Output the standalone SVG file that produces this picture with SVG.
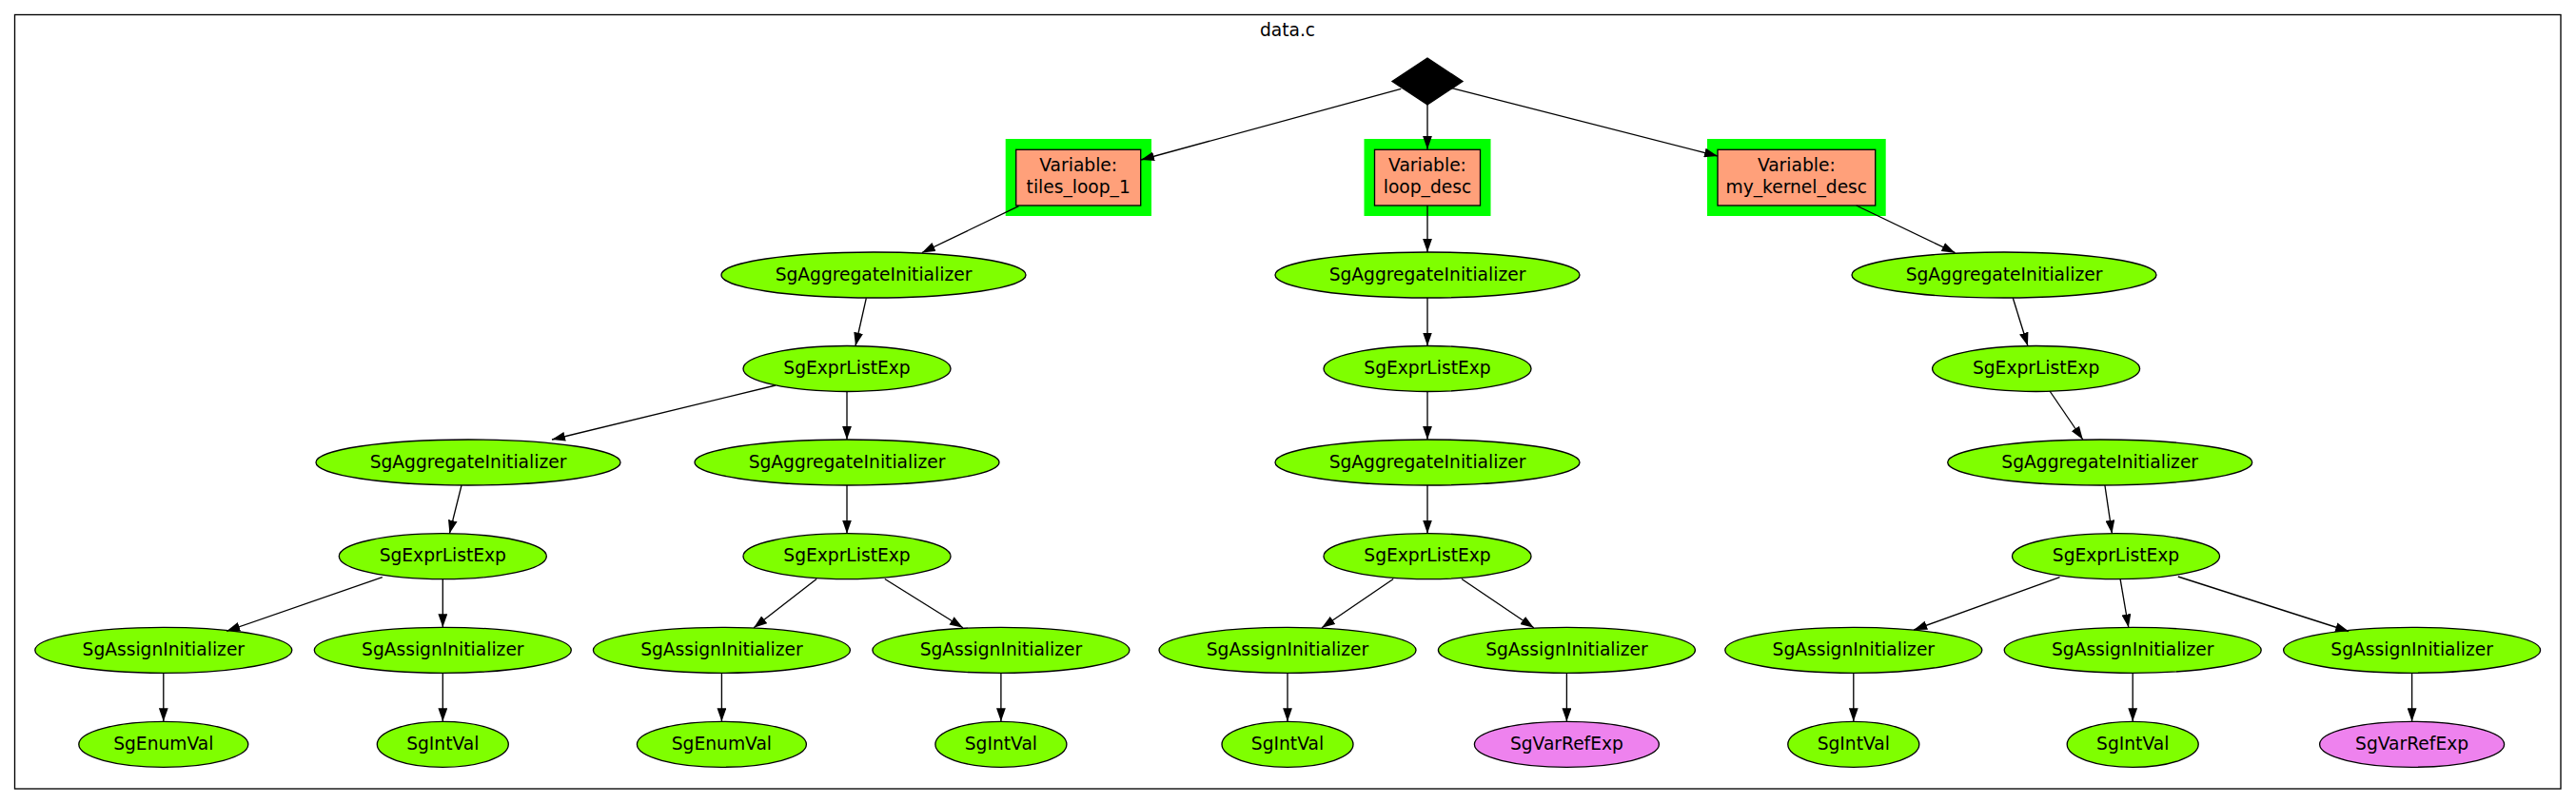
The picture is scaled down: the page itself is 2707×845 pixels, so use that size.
<svg xmlns="http://www.w3.org/2000/svg" width="2707" height="845" viewBox="0 0 2707 845">
<defs>
<marker id="ah" markerUnits="userSpaceOnUse" markerWidth="14" markerHeight="10" viewBox="0 0 13.33 9.33" refX="13.33" refY="4.67" orient="auto">
<path d="M0,0 L13.33,4.67 L0,9.33 z" fill="#000"/>
</marker>
</defs>
<style>
text{font-family:"DejaVu Sans","Liberation Sans",sans-serif;font-size:18.67px;fill:#000;text-anchor:middle}
.g{fill:#7fff00;stroke:#000;stroke-width:1.33}
.v{fill:#ee82ee;stroke:#000;stroke-width:1.33}
.box{fill:#ffa07a;stroke:#000;stroke-width:1.33}
.hl{fill:#00ff00;stroke:none}
.e{stroke:#000;stroke-width:1.33;fill:none;marker-end:url(#ah)}
</style>
<rect x="0" y="0" width="2707" height="845" fill="#fff"/>
<g id="cluster">
<rect x="15.5" y="15.5" width="2675.5" height="813.5" fill="none" stroke="#000" stroke-width="1.33"/>
<text x="1353" y="37.5">data.c</text>
</g>
<g id="root"><polygon points="1500,61 1537,85.5 1500,110 1463,85.5" fill="#000" stroke="#000" stroke-width="1.33"/></g>
<g id="var_tiles_loop_1">
<rect class="hl" x="1056.7" y="146" width="153.3" height="81"/>
<rect class="box" x="1067.7" y="157.3" width="131" height="58.7"/>
<text x="1133.2" y="179.5">Variable:</text>
<text x="1133.2" y="203">tiles_loop_1</text>
</g>
<g id="var_loop_desc">
<rect class="hl" x="1433.5" y="146" width="133" height="81"/>
<rect class="box" x="1444.5" y="157.3" width="111" height="58.7"/>
<text x="1500" y="179.5">Variable:</text>
<text x="1500" y="203">loop_desc</text>
</g>
<g id="var_my_kernel_desc">
<rect class="hl" x="1794" y="146" width="187.7" height="81"/>
<rect class="box" x="1805" y="157.3" width="165.7" height="58.7"/>
<text x="1887.8" y="179.5">Variable:</text>
<text x="1887.8" y="203">my_kernel_desc</text>
</g>
<g id="n_agg1"><ellipse class="g" cx="918" cy="289" rx="160" ry="24"/><text x="918" y="294.5">SgAggregateInitializer</text></g>
<g id="n_agg2"><ellipse class="g" cx="1500" cy="289" rx="160" ry="24"/><text x="1500" y="294.5">SgAggregateInitializer</text></g>
<g id="n_agg3"><ellipse class="g" cx="2106" cy="289" rx="160" ry="24"/><text x="2106" y="294.5">SgAggregateInitializer</text></g>
<g id="n_el1"><ellipse class="g" cx="890" cy="387.5" rx="109" ry="24"/><text x="890" y="393">SgExprListExp</text></g>
<g id="n_el2"><ellipse class="g" cx="1500" cy="387.5" rx="109" ry="24"/><text x="1500" y="393">SgExprListExp</text></g>
<g id="n_el3"><ellipse class="g" cx="2139.6" cy="387.5" rx="109" ry="24"/><text x="2139.6" y="393">SgExprListExp</text></g>
<g id="n_agg4"><ellipse class="g" cx="492" cy="486" rx="160" ry="24"/><text x="492" y="491.5">SgAggregateInitializer</text></g>
<g id="n_agg5"><ellipse class="g" cx="890" cy="486" rx="160" ry="24"/><text x="890" y="491.5">SgAggregateInitializer</text></g>
<g id="n_agg6"><ellipse class="g" cx="1500" cy="486" rx="160" ry="24"/><text x="1500" y="491.5">SgAggregateInitializer</text></g>
<g id="n_agg7"><ellipse class="g" cx="2206.7" cy="486" rx="160" ry="24"/><text x="2206.7" y="491.5">SgAggregateInitializer</text></g>
<g id="n_el4"><ellipse class="g" cx="465.3" cy="584.7" rx="109" ry="24"/><text x="465.3" y="590.2">SgExprListExp</text></g>
<g id="n_el5"><ellipse class="g" cx="890" cy="584.7" rx="109" ry="24"/><text x="890" y="590.2">SgExprListExp</text></g>
<g id="n_el6"><ellipse class="g" cx="1500" cy="584.7" rx="109" ry="24"/><text x="1500" y="590.2">SgExprListExp</text></g>
<g id="n_el7"><ellipse class="g" cx="2223.5" cy="584.7" rx="109" ry="24"/><text x="2223.5" y="590.2">SgExprListExp</text></g>
<g id="n_as1"><ellipse class="g" cx="171.8" cy="683.3" rx="135" ry="24"/><text x="171.8" y="688.8">SgAssignInitializer</text></g>
<g id="n_as2"><ellipse class="g" cx="465.3" cy="683.3" rx="135" ry="24"/><text x="465.3" y="688.8">SgAssignInitializer</text></g>
<g id="n_as3"><ellipse class="g" cx="758.4" cy="683.3" rx="135" ry="24"/><text x="758.4" y="688.8">SgAssignInitializer</text></g>
<g id="n_as4"><ellipse class="g" cx="1051.9" cy="683.3" rx="135" ry="24"/><text x="1051.9" y="688.8">SgAssignInitializer</text></g>
<g id="n_as5"><ellipse class="g" cx="1353" cy="683.3" rx="135" ry="24"/><text x="1353" y="688.8">SgAssignInitializer</text></g>
<g id="n_as6"><ellipse class="g" cx="1646.4" cy="683.3" rx="135" ry="24"/><text x="1646.4" y="688.8">SgAssignInitializer</text></g>
<g id="n_as7"><ellipse class="g" cx="1947.8" cy="683.3" rx="135" ry="24"/><text x="1947.8" y="688.8">SgAssignInitializer</text></g>
<g id="n_as8"><ellipse class="g" cx="2241.2" cy="683.3" rx="135" ry="24"/><text x="2241.2" y="688.8">SgAssignInitializer</text></g>
<g id="n_as9"><ellipse class="g" cx="2534.6" cy="683.3" rx="135" ry="24"/><text x="2534.6" y="688.8">SgAssignInitializer</text></g>
<g id="n_v1"><ellipse class="g" cx="171.8" cy="782.3" rx="89" ry="24"/><text x="171.8" y="787.8">SgEnumVal</text></g>
<g id="n_v2"><ellipse class="g" cx="465.3" cy="782.3" rx="69" ry="24"/><text x="465.3" y="787.8">SgIntVal</text></g>
<g id="n_v3"><ellipse class="g" cx="758.4" cy="782.3" rx="89" ry="24"/><text x="758.4" y="787.8">SgEnumVal</text></g>
<g id="n_v4"><ellipse class="g" cx="1051.9" cy="782.3" rx="69" ry="24"/><text x="1051.9" y="787.8">SgIntVal</text></g>
<g id="n_v5"><ellipse class="g" cx="1353" cy="782.3" rx="69" ry="24"/><text x="1353" y="787.8">SgIntVal</text></g>
<g id="n_v6"><ellipse class="v" cx="1646.4" cy="782.3" rx="97" ry="24"/><text x="1646.4" y="787.8">SgVarRefExp</text></g>
<g id="n_v7"><ellipse class="g" cx="1947.8" cy="782.3" rx="69" ry="24"/><text x="1947.8" y="787.8">SgIntVal</text></g>
<g id="n_v8"><ellipse class="g" cx="2241.2" cy="782.3" rx="69" ry="24"/><text x="2241.2" y="787.8">SgIntVal</text></g>
<g id="n_v9"><ellipse class="v" cx="2534.6" cy="782.3" rx="97" ry="24"/><text x="2534.6" y="787.8">SgVarRefExp</text></g>
<g id="edges">
<line class="e" x1="1472.3" y1="93.3" x2="1199" y2="168"/>
<line class="e" x1="1500" y1="110" x2="1500" y2="157"/>
<line class="e" x1="1525.7" y1="92.7" x2="1805" y2="164"/>
<line class="e" x1="1070.5" y1="216.7" x2="968.9" y2="265.5"/>
<line class="e" x1="1500" y1="216" x2="1500" y2="265"/>
<line class="e" x1="1950.7" y1="216" x2="2054.5" y2="265.7"/>
<line class="e" x1="910.3" y1="313.3" x2="899" y2="363.5"/>
<line class="e" x1="1500" y1="313" x2="1500" y2="363.5"/>
<line class="e" x1="2115.3" y1="313.3" x2="2130.9" y2="363.5"/>
<line class="e" x1="815" y1="405" x2="580" y2="462"/>
<line class="e" x1="890" y1="411.5" x2="890" y2="462"/>
<line class="e" x1="1500" y1="411.5" x2="1500" y2="462"/>
<line class="e" x1="2154" y1="411" x2="2188.8" y2="462"/>
<line class="e" x1="485" y1="510" x2="472.4" y2="560.7"/>
<line class="e" x1="890" y1="510" x2="890" y2="560.7"/>
<line class="e" x1="1500" y1="510" x2="1500" y2="560.7"/>
<line class="e" x1="2211.9" y1="510" x2="2219.4" y2="560.7"/>
<line class="e" x1="401.8" y1="606.7" x2="238.2" y2="663.3"/>
<line class="e" x1="465.3" y1="608.7" x2="465.3" y2="659.3"/>
<line class="e" x1="858.1" y1="608.5" x2="792.1" y2="659.8"/>
<line class="e" x1="929.8" y1="608.5" x2="1011.9" y2="659.8"/>
<line class="e" x1="1464.2" y1="608.5" x2="1389" y2="659.8"/>
<line class="e" x1="1536" y1="608.5" x2="1611.8" y2="659.8"/>
<line class="e" x1="2164.5" y1="606.7" x2="2011.2" y2="662"/>
<line class="e" x1="2228.1" y1="608.7" x2="2236.8" y2="659.5"/>
<line class="e" x1="2288.8" y1="606" x2="2468.2" y2="663.5"/>
<line class="e" x1="171.8" y1="707.3" x2="171.8" y2="758.3"/>
<line class="e" x1="465.3" y1="707.3" x2="465.3" y2="758.3"/>
<line class="e" x1="758.4" y1="707.3" x2="758.4" y2="758.3"/>
<line class="e" x1="1051.9" y1="707.3" x2="1051.9" y2="758.3"/>
<line class="e" x1="1353" y1="707.3" x2="1353" y2="758.3"/>
<line class="e" x1="1646.4" y1="707.3" x2="1646.4" y2="758.3"/>
<line class="e" x1="1947.8" y1="707.3" x2="1947.8" y2="758.3"/>
<line class="e" x1="2241.2" y1="707.3" x2="2241.2" y2="758.3"/>
<line class="e" x1="2534.6" y1="707.3" x2="2534.6" y2="758.3"/>
</g>
</svg>
